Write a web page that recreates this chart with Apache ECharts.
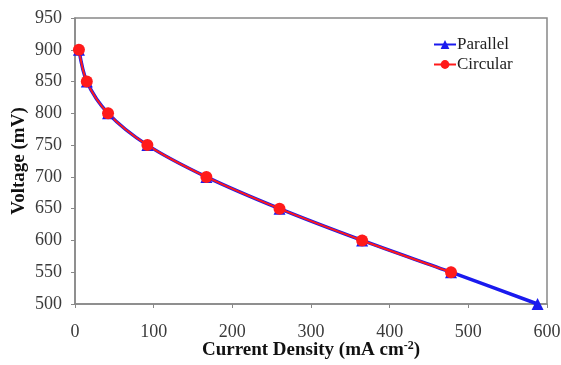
<!DOCTYPE html>
<html>
<head>
<meta charset="utf-8">
<script src="https://cdn.jsdelivr.net/npm/echarts@6/dist/echarts.min.js"></script>
<style>
html,body{margin:0;padding:0;background:#fff;}
#chart{width:561px;height:365px;}
</style>
</head>
<body>
<div id="chart"></div>
<script>
const parallelX = [5, 15, 42, 92, 167, 260, 365, 478, 588];
const parallelY = [900, 850, 800, 750, 700, 650, 600, 550, 500];
const circularX = [5, 15, 42, 92, 167, 260, 365, 478];
const circularY = [900, 850, 800, 750, 700, 650, 600, 550];
const seriesNames = ['Parallel', 'Circular'];

const pairs = (xs, ys) => xs.map((x, i) => [x, ys[i]]);
const serif = 'Liberation Serif';

const chart = echarts.init(document.getElementById('chart'));
chart.setOption({
  animation: false,
  backgroundColor: '#fff',
  grid: { left: 75, right: 14, top: 18, bottom: 61, outerBoundsMode: 'none', containLabel: false, show: true, borderColor: '#888', borderWidth: 1.5 },
  legend: {
    orient: 'vertical',
    left: 428, top: 31,
    itemWidth: 22, itemHeight: 11, itemGap: 3,
    textStyle: { fontFamily: serif, fontSize: 17, color: '#222', padding: [0, 0, 0, -4] },
    data: seriesNames
  },
  xAxis: {
    type: 'value', min: 0, max: 600, interval: 100,
    name: '{b|Current Density (mA cm}{s|-2}{b|)}',
    nameLocation: 'middle', nameGap: 36, nameMoveOverlap: false,
    nameTextStyle: {
      rich: {
        b: { fontFamily: serif, fontSize: 19, fontWeight: 'bold', color: '#111' },
        s: { fontFamily: serif, fontSize: 12, fontWeight: 'bold', color: '#111', verticalAlign: 'top', padding: [0, 0, 8, 0] }
      }
    },
    axisLine: { lineStyle: { color: '#888', width: 1.5 } },
    axisTick: { show: true, inside: false, length: 4, lineStyle: { color: '#888' } },
    axisLabel: { fontFamily: serif, fontSize: 18, color: '#3a3a3a', margin: 19 },
    splitLine: { show: false }
  },
  yAxis: {
    type: 'value', min: 500, max: 950, interval: 50,
    name: 'Voltage (mV)',
    nameLocation: 'middle', nameGap: 46, nameMoveOverlap: false,
    nameTextStyle: { fontFamily: serif, fontSize: 19, fontWeight: 'bold', color: '#111' },
    axisLine: { show: true, lineStyle: { color: '#888', width: 1.5 } },
    axisTick: { show: true, inside: false, length: 4, lineStyle: { color: '#888' } },
    axisLabel: { fontFamily: serif, fontSize: 18, color: '#3a3a3a', margin: 13 },
    splitLine: { show: false }
  },
  series: [
    {
      name: seriesNames[0], type: 'line', data: pairs(parallelX, parallelY),
      smooth: 0.3,
      color: '#1a1aee',
      lineStyle: { width: 3.5, color: '#1a1aee' },
      symbol: 'triangle', symbolSize: 12,
      itemStyle: { color: '#1a1aee' }
    },
    {
      name: seriesNames[1], type: 'line', data: pairs(circularX, circularY),
      smooth: 0.3,
      color: '#ff1a1a',
      lineStyle: { width: 2, color: '#ff1a1a' },
      symbol: 'circle', symbolSize: 12,
      itemStyle: { color: '#ff1a1a' }
    }
  ]
});
</script>
</body>
</html>
